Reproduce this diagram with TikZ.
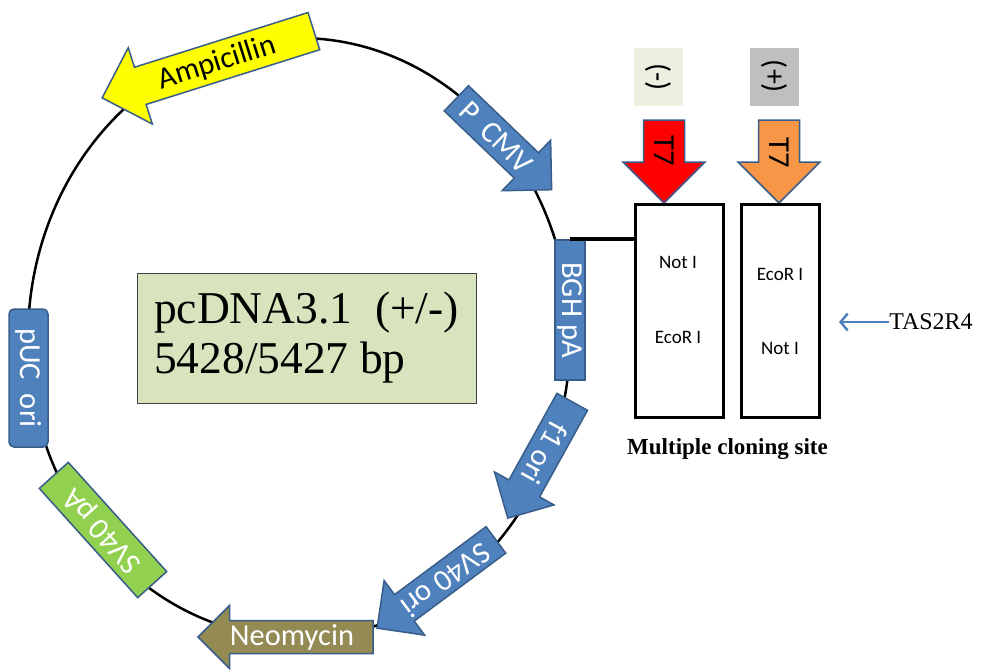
\documentclass[tikz,border=0pt]{standalone}
\usepackage{fontspec}
\setmainfont{Liberation Serif}
\setsansfont{Carlito}
\usetikzlibrary{arrows.meta}
\definecolor{featblue}{HTML}{4F81BD}
\definecolor{featedge}{HTML}{385D8A}
\definecolor{ampyellow}{HTML}{FFFF00}
\definecolor{neoolive}{HTML}{948A54}
\definecolor{svgreen}{HTML}{92D050}
\definecolor{titlefill}{HTML}{D7E4BD}
\definecolor{minusfill}{HTML}{EBF1DE}
\definecolor{plusfill}{HTML}{BFBFBF}
\definecolor{t7red}{HTML}{FF0000}
\definecolor{t7orange}{HTML}{F79646}

\newcommand{\genearrow}[6]{%
  \begin{scope}[shift={#2}, rotate=#3]
    \filldraw[#1] ({-#4/2},{-#5/2}) -- ({#4/2-#6/2},{-#5/2}) -- ({#4/2-#6/2},{-#6/2})
      -- ({#4/2},0) -- ({#4/2-#6/2},{#6/2}) -- ({#4/2-#6/2},{#5/2}) -- ({-#4/2},{#5/2}) -- cycle;
  \end{scope}}

\begin{document}
\begin{tikzpicture}[x=1pt, y=-1pt, semithick,
    featshape/.style={draw=featedge, line width=1.5pt},
    featlabel/.style={font=\sffamily\fontsize{30.5}{30.5}\selectfont, text=white, inner sep=0pt},
    featbox/.style={featlabel, draw=featedge, line width=1.5pt},
    mcsbox/.style={draw, line width=3pt, minimum height=213pt},
    sitelabel/.style={font=\sffamily\fontsize{19}{19}\selectfont, inner sep=0pt},
    strandbox/.style={rotate=-90, minimum width=58pt, minimum height=49pt, inner sep=0pt,
      font=\sffamily\fontsize{30}{30}\selectfont},
    tasarrow/.style={draw=featblue, line width=2.5pt, -{Straight Barb[length=7pt,width=17pt]}}]
      \useasboundingbox (0,0) rectangle (982,670);
      \draw [line width=2.5pt] (299,338) ellipse [x radius=271pt, y radius=300pt];

      \genearrow{featshape, fill=ampyellow}{(208,64.5)}{197.5}{222}{39}{80}
      \genearrow{featshape, fill=featblue}{(504,144)}{-43.8}{132}{35}{70}
      \genearrow{featshape, fill=featblue}{(540,460)}{241}{133}{35}{68}
      \genearrow{featshape, fill=featblue}{(436.5,584)}{216.6}{148}{33}{68}
      \genearrow{featshape, fill=neoolive}{(285.5,637)}{180}{175}{33}{63}
      \genearrow{featshape, fill=t7red}{(664,161.5)}{-90}{83}{41}{82}
      \genearrow{featshape, fill=t7orange}{(779,161.5)}{-90}{83}{41}{82}

      \node [featlabel, text=black, rotate=17.5] (amp) at (217,63) {Ampicillin};
      \node [featlabel, rotate=-44] (pcmv) at (496,137) {P\ \ CMV};
      \node [featlabel, rotate=241] (f1ori) at (545,453) {f1 ori};
      \node [featlabel, rotate=216.6] (sv40ori) at (446,580) {SV40 ori};
      \node [featlabel] (neo) at (292,637) {Neomycin};
      \node [featlabel, text=black, rotate=-90] (t7minus) at (664.5,151) {T7};
      \node [featlabel, text=black, rotate=-90] (t7plus) at (779,153) {T7};

      \node [featbox, fill=featblue, rounded corners=5pt, rotate=-90, minimum width=138pt, minimum height=39pt] (puc) at (28.5,378) {pUC\ \ ori};
      \node [featbox, fill=svgreen, rotate=132, minimum width=147pt, minimum height=39pt] (sv40pa) at (103,530) {SV40 pA};
      \node [featbox, fill=featblue, rotate=-90, minimum width=140pt, minimum height=30pt] (bgh) at (570,310) {BGH pA};

      \node [draw=black!75, fill=titlefill, line width=1pt, minimum width=339pt, minimum height=130pt, align=left,
        font=\fontsize{45.5}{50}\selectfont] (title) at (306.5,338) {pcDNA3.1\ \ (+/-)\\5428/5427 bp};

      \node [strandbox, fill=minusfill] (minus) at (658.5,77) {(-)};
      \node [strandbox, fill=plusfill] (plus) at (774,76.5) {(+)};

      \node [mcsbox, minimum width=88pt] (mcsminus) at (679,311) {};
      \node [mcsbox, minimum width=78pt] (mcsplus) at (780,311) {};
      \node [sitelabel] (notminus) at (678,262) {Not I};
      \node [sitelabel] (ecominus) at (678,337) {EcoR I};
      \node [sitelabel] (ecoplus) at (780,274) {EcoR I};
      \node [sitelabel] (notplus) at (780,348) {Not I};
      \node [font=\bfseries\fontsize{23}{23}\selectfont] (mcslabel) at (727.5,449) {Multiple cloning site};

      \draw [line width=4pt] (bgh.west) -- (mcsminus.west |- bgh.west);

      \node [font=\fontsize{24}{24}\selectfont, anchor=west, inner sep=0pt] (tas) at (889,322) {TAS2R4};
      \coordinate (tastip) at (839,322);
      \draw [tasarrow] (tas.west) -- (tastip);
\end{tikzpicture}
\end{document}
